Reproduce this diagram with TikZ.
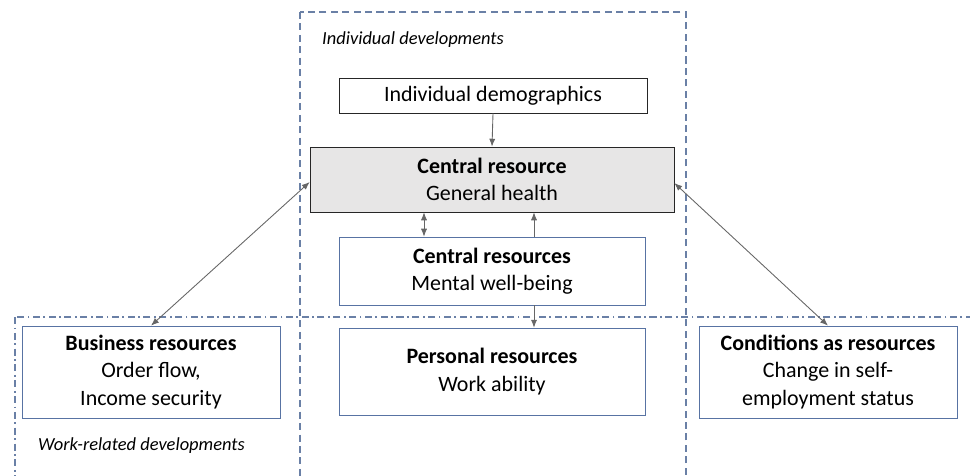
\documentclass[tikz,border=0pt]{standalone}
\usepackage{fontspec}
\setmainfont{Carlito}
\usetikzlibrary{arrows.meta}

\definecolor{framecol}{HTML}{6A80A6}
\definecolor{boxblue}{HTML}{5873A3}
\definecolor{centralfill}{HTML}{E7E6E6}

\tikzset{
  res/.style={draw=boxblue,fill=white,align=center,inner sep=2pt,
    font=\fontsize{12.5}{15.5}\selectfont},
  blackres/.style={res,draw=black!85},
  link/.style={draw=black!60,line width=0.5pt,-{Latex[length=4.5pt,width=3.5pt]}},
  twolink/.style={link,{Latex[length=4.5pt,width=3.5pt]}-{Latex[length=4.5pt,width=3.5pt]}},
  area/.style={font=\fontsize{10.5}{12}\selectfont\itshape,anchor=west},
}

\begin{document}
\begin{tikzpicture}[x=0.02cm,y=-0.02cm]
\useasboundingbox (0,0) rectangle (970,476);
\clip (0,0) rectangle (970,476);

% the two development areas
\draw[framecol,line width=0.8pt,dash pattern=on 4pt off 2.5pt] (300,12) rectangle (686,490);
\draw[framecol,line width=0.8pt,dash pattern=on 4pt off 2pt on 1pt off 2pt] (15,317) rectangle (985,490);
\node[area] (indiv) at (316,40) {Individual developments};
\node[area] (work) at (32,446) {Work-related developments};

% resources
\node[blackres,minimum width=6.16cm,minimum height=0.7cm] (demo) at (493,95.5) {Individual demographics};
\node[blackres,fill=centralfill,minimum width=7.28cm,minimum height=1.3cm] (health) at (492,179.5)
  {\textbf{Central resource}\\General health};
\node[res,minimum width=6.12cm,minimum height=1.36cm] (mental) at (492,271)
  {\textbf{Central resources}\\Mental well-being};
\node[res,minimum width=6.12cm,minimum height=1.74cm] (personal) at (492,371.5)
  {\textbf{Personal resources}\\Work ability};
\node[res,minimum width=5.16cm,minimum height=1.84cm] (business) at (151,372)
  {\textbf{Business resources}\\Order flow,\\Income security};
\node[res,minimum width=5.16cm,minimum height=1.84cm] (cond) at (828,372)
  {\textbf{Conditions as resources}\\Change in self-\\employment status};

\coordinate (lx) at (424,0);
\coordinate (rx) at (534,0);

% links
\draw[link] (demo.south) -- (health.north);
\draw[twolink] (mental.north -| lx) -- (health.south -| lx);
\draw[link] (mental.north -| rx) -- (health.south -| rx);
\draw[link] (mental.south -| rx) -- (personal.north -| rx);
\draw[twolink] (business.north) -- ([yshift=-0.05cm]health.west);
\draw[twolink] (cond.north) -- ([yshift=-0.07cm]health.east);
\end{tikzpicture}
\end{document}
